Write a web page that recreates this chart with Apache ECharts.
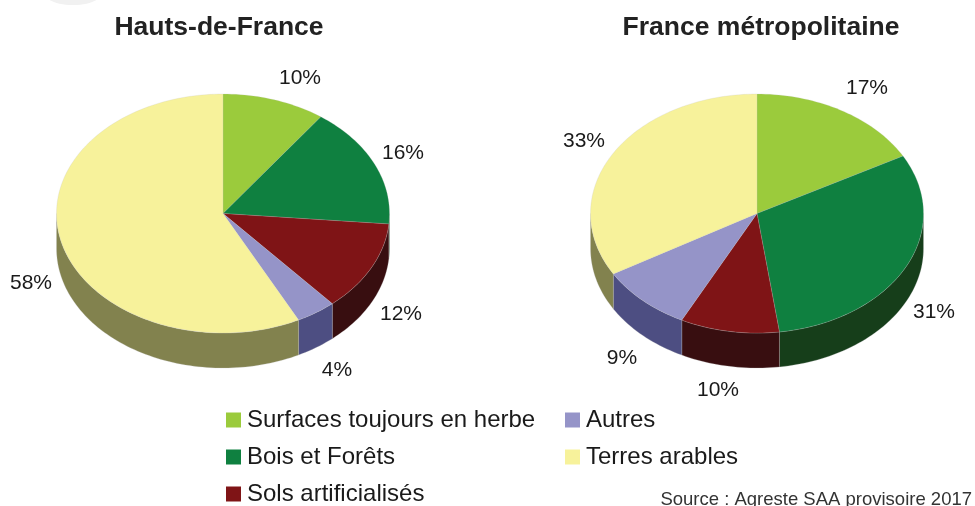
<!DOCTYPE html>
<html>
<head>
<meta charset="utf-8">
<style>
  html, body { margin: 0; padding: 0; background: #fff; }
  #main { width: 975px; height: 506px; }
</style>
<script src="https://cdn.jsdelivr.net/npm/echarts@6/dist/echarts.min.js"></script>
</head>
<body>
<div id="main"></div>
<script>
// values per land use, [Hauts-de-France, France metropolitaine]
var pieNames = ['Hauts-de-France', 'France métropolitaine'];
var categories = ['Surfaces toujours en herbe', 'Bois et Forêts', 'Sols artificialisés', 'Autres', 'Terres arables'];
var surfaces = [10, 17];
var bois = [16.4, 30.8];
var sols = [12.2, 9.6];
var autres = [3.9, 9.1];
var terres = [57.5, 33.4];

var allValues = [surfaces, bois, sols, autres, terres];
var topColors = ['#9BCB3C', '#0F8040', '#7F1416', '#9594C8', '#F7F29B'];
var sideColors = ['#5C7A24', '#163E1A', '#380E10', '#4D4E82', '#82824E'];

var font = '"Liberation Sans", Arial, sans-serif';
var centers = [[223, 213.5], [757, 213.5]];
var rx = 166.5, ry = 119.5, depth = 35;

// label centres, same order as categories
var labelPos = [
  [[300, 78], [403, 153], [401, 314], [337, 370], [31, 283]],
  [[867, 88], [934, 312], [718, 390], [622, 358], [584, 141]]
];

function pt(c, deg, dy) {
  var t = deg * Math.PI / 180;
  return [c[0] + rx * Math.sin(t), c[1] - ry * Math.cos(t) + dy];
}

function arc(c, a, b, dy) {
  var pts = [];
  var n = Math.max(2, Math.ceil((b - a) / 1.5));
  for (var i = 0; i <= n; i++) pts.push(pt(c, a + (b - a) * i / n, dy));
  return pts;
}

function renderSlice(colorIdx) {
  return function (params, api) {
    var pie = api.value(0);
    var total = 0, before = 0;
    allValues.forEach(function (v, i) {
      total += v[pie];
      if (i < colorIdx) before += v[pie];
    });
    var a = before / total * 360;
    var b = (before + api.value(1)) / total * 360;
    var c = centers[pie];
    var children = [];

    // side wall, only the front half of the ellipse shows
    var sa = Math.max(a, 90), sb = Math.min(b, 270);
    if (sb > sa) {
      children.push({
        type: 'polygon',
        z2: 1,
        shape: { points: arc(c, sa, sb, 0).concat(arc(c, sa, sb, depth).reverse()) },
        style: { fill: sideColors[colorIdx], stroke: 'rgba(190,190,190,0.5)', lineWidth: 0.5 }
      });
    }
    children.push({
      type: 'polygon',
      z2: 2,
      shape: { points: [c].concat(arc(c, a, b, 0)) },
      style: { fill: topColors[colorIdx], stroke: 'rgba(190,190,190,0.4)', lineWidth: 0.5 }
    });
    return { type: 'group', children: children };
  };
}

var series = categories.map(function (name, i) {
  return {
    type: 'custom',
    name: name,
    coordinateSystem: 'none',
    silent: true,
    animation: false,
    itemStyle: { color: topColors[i] },
    data: allValues[i].map(function (v, p) { return [p, v]; }),
    renderItem: renderSlice(i)
  };
});

var labels = [];
pieNames.forEach(function (n, p) {
  categories.forEach(function (c, i) {
    labels.push({
      type: 'text',
      x: labelPos[p][i][0],
      y: labelPos[p][i][1],
      style: {
        text: Math.round(allValues[i][p]) + '%',
        font: '21px ' + font,
        fill: '#1a1a1a',
        textAlign: 'center',
        textVerticalAlign: 'middle'
      }
    });
  });
});

// soft grey smudge in the top left corner of the original
labels.push({
  type: 'ellipse',
  shape: { cx: 73, cy: -6, rx: 28, ry: 11 },
  style: { fill: '#f1f1f1' },
  z: -1
});

labels.push({
  type: 'text',
  right: 3,
  top: 490,
  style: { text: 'Source : Agreste SAA provisoire 2017', font: '18.5px ' + font, fill: '#333' }
});

var legendBase = {
  orient: 'vertical',
  icon: 'rect',
  itemWidth: 15,
  itemHeight: 15,
  itemGap: 13,
  selectedMode: false,
  padding: 0,
  textStyle: { fontFamily: font, fontSize: 24, color: '#1a1a1a', padding: [0, 0, 0, 1], lineHeight: 22 }
};

var option = {
  backgroundColor: '#fff',
  animation: false,
  title: [
    { text: pieNames[0], left: 219, top: 14, padding: 0, textAlign: 'center',
      textStyle: { fontFamily: font, fontSize: 26.5, fontWeight: 'bold', color: '#222' } },
    { text: pieNames[1], left: 761, top: 14, padding: 0, textAlign: 'center',
      textStyle: { fontFamily: font, fontSize: 26.5, fontWeight: 'bold', color: '#222' } }
  ],
  legend: [
    Object.assign({}, legendBase, { left: 226, top: 408, data: categories.slice(0, 3) }),
    Object.assign({}, legendBase, { left: 565, top: 408, data: categories.slice(3) })
  ],
  series: series,
  graphic: labels
};

var chart = echarts.init(document.getElementById('main'));
chart.setOption(option);
</script>
</body>
</html>
